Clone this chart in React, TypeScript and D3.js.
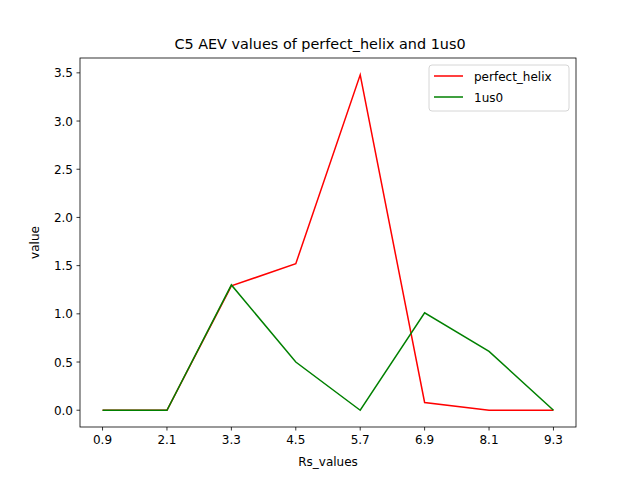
import React from "react";
import * as d3 from "d3";

const rs = [0.9, 2.1, 3.3, 4.5, 5.7, 6.9, 8.1, 9.3];
const helix = [0, 0, 1.29, 1.52, 3.48, 0.08, 0, 0];
const us0 = [0, 0, 1.3, 0.5, 0, 1.01, 0.61, 0];
const yTicks = [0, 0.5, 1, 1.5, 2, 2.5, 3, 3.5];

export default function App() {
  const L = 80, R = 576, T = 58, B = 427;
  const x = d3.scaleLinear().domain([0.48, 9.72]).range([L, R]);
  const y = d3.scaleLinear().domain([-0.174, 3.654]).range([B, T]);
  const line = (vals: number[]) =>
    d3.line<number>().x((_, i) => x(rs[i])).y((v) => y(v))(vals) || "";
  const f = "DejaVu Sans";
  return (
    <svg width={640} height={480} style={{ position: "absolute", left: 0, top: 0 }} fontFamily={f}>
      <rect width={640} height={480} fill="white" />
      <text x={320} y={49} textAnchor="middle" fontSize={14.4}>C5 AEV values of perfect_helix and 1us0</text>
      {rs.map((r) => (
        <g key={r}>
          <line x1={x(r)} x2={x(r)} y1={B} y2={B + 3.5} stroke="black" strokeWidth={0.8} />
          <text x={x(r)} y={B + 17} textAnchor="middle" fontSize={12}>{r.toFixed(1)}</text>
        </g>
      ))}
      {yTicks.map((t) => (
        <g key={t}>
          <line x1={L - 3.5} x2={L} y1={y(t)} y2={y(t)} stroke="black" strokeWidth={0.8} />
          <text x={L - 7} y={y(t) + 4.5} textAnchor="end" fontSize={12}>{t.toFixed(1)}</text>
        </g>
      ))}
      <text x={328} y={466} textAnchor="middle" fontSize={12}>Rs_values</text>
      <text transform={`translate(39,${(T + B) / 2}) rotate(-90)`} textAnchor="middle" fontSize={12}>value</text>
      <path d={line(helix)} fill="none" stroke="red" strokeWidth={1.5} />
      <path d={line(us0)} fill="none" stroke="green" strokeWidth={1.5} />
      <rect x={L} y={T} width={R - L} height={B - T} fill="none" stroke="black" strokeWidth={0.8} />
      <rect x={429} y={65} width={140} height={46} rx={3} fill="white" fillOpacity={0.8} stroke="#ccc" strokeWidth={0.8} />
      <line x1={434} x2={463} y1={76} y2={76} stroke="red" strokeWidth={1.5} />
      <text x={474} y={80.5} fontSize={12}>perfect_helix</text>
      <line x1={434} x2={463} y1={97} y2={97} stroke="green" strokeWidth={1.5} />
      <text x={474} y={101.5} fontSize={12}>1us0</text>
    </svg>
  );
}
